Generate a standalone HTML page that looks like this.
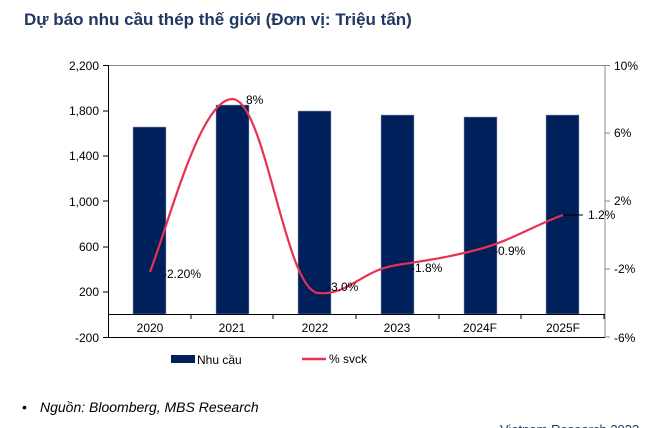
<!DOCTYPE html>
<html><head><meta charset="utf-8"><style>
body{margin:0;width:662px;height:428px;overflow:hidden;background:#fff;font-family:"Liberation Sans",sans-serif;position:relative}
.t{position:absolute;left:24px;top:10px;font-size:17px;font-weight:bold;color:#1f3864}
</style></head><body>
<div class="t">Dự báo nhu cầu thép thế giới (Đơn vị: Triệu tấn)</div>
<svg width="662" height="428" style="position:absolute;left:0;top:0" font-family="Liberation Sans, sans-serif" font-size="12" fill="#000">
<line x1="108" y1="65.5" x2="605" y2="65.5" stroke="#888" stroke-width="1"/>
<line x1="605" y1="65" x2="605" y2="337" stroke="#888" stroke-width="1"/>
<g fill="#00205b" stroke="#9aa6c0" stroke-width="0.5">
<rect x="133" y="127" width="33" height="187"/>
<rect x="216" y="105" width="33" height="209"/>
<rect x="298" y="111" width="33" height="203"/>
<rect x="381" y="115" width="33" height="199"/>
<rect x="464" y="117" width="33" height="197"/>
<rect x="546" y="115" width="33" height="199"/>
</g>
<line x1="108" y1="314.5" x2="605" y2="314.5" stroke="#000"/>
<line x1="108" y1="337.5" x2="605" y2="337.5" stroke="#000"/>
<line x1="108.5" y1="65" x2="108.5" y2="338" stroke="#000"/>
<g stroke="#000">
<line x1="103" y1="65.5" x2="108" y2="65.5"/><line x1="103" y1="111" x2="108" y2="111"/><line x1="103" y1="156" x2="108" y2="156"/><line x1="103" y1="201" x2="108" y2="201"/><line x1="103" y1="247" x2="108" y2="247"/><line x1="103" y1="292" x2="108" y2="292"/><line x1="103" y1="337.5" x2="108" y2="337.5"/>
<line x1="191" y1="314" x2="191" y2="319"/><line x1="273" y1="314" x2="273" y2="319"/><line x1="356" y1="314" x2="356" y2="319"/><line x1="439" y1="314" x2="439" y2="319"/><line x1="521" y1="314" x2="521" y2="319"/><line x1="604" y1="314" x2="604" y2="319"/>
</g>
<g stroke="#888"><line x1="605" y1="65.5" x2="610" y2="65.5"/><line x1="605" y1="133" x2="610" y2="133"/><line x1="605" y1="201" x2="610" y2="201"/><line x1="605" y1="269" x2="610" y2="269"/><line x1="605" y1="337" x2="610" y2="337"/></g>
<g text-anchor="end">
<text x="99" y="70">2,200</text><text x="99" y="115">1,800</text><text x="99" y="160">1,400</text><text x="99" y="206">1,000</text><text x="99" y="251">600</text><text x="99" y="296">200</text><text x="99" y="342">-200</text>
</g>
<g>
<text x="614" y="70">10%</text><text x="614" y="137">6%</text><text x="614" y="205">2%</text><text x="614" y="273">-2%</text><text x="614" y="342">-6%</text>
</g>
<g text-anchor="middle">
<text x="150" y="332">2020</text><text x="232" y="332">2021</text><text x="315" y="332">2022</text><text x="397" y="332">2023</text><text x="480" y="332">2024F</text><text x="563" y="332">2025F</text>
</g>
<path d="M150,272 C170,220 200,100 232,99 C265,98 285,290 318,293 C348,296 362,270 397,265 C430,260 450,257 480,249 C510,241 535,225 563,215" fill="none" stroke="#e8304f" stroke-width="2.2"/>
<line x1="563" y1="215" x2="583" y2="215" stroke="#000"/>
<text x="163" y="278">-2.20%</text>
<text x="246" y="104">8%</text>
<text x="327" y="291">-3.0%</text>
<text x="411" y="272">-1.8%</text>
<text x="494" y="255">-0.9%</text>
<text x="588" y="219">1.2%</text>
<rect x="171" y="355" width="24" height="8" fill="#00205b"/>
<text x="197" y="364">Nhu cầu</text>
<line x1="302" y1="359" x2="326" y2="359" stroke="#e8304f" stroke-width="2.5"/>
<text x="329" y="363">% svck</text>
<text x="22" y="412" font-size="14">•</text>
<text x="40" y="412" font-size="14" font-style="italic">Nguồn: Bloomberg, MBS Research</text>
<text x="500" y="434" font-size="13" fill="#1f3864">Vietnam Research 2023</text>
</svg>
</body></html>
